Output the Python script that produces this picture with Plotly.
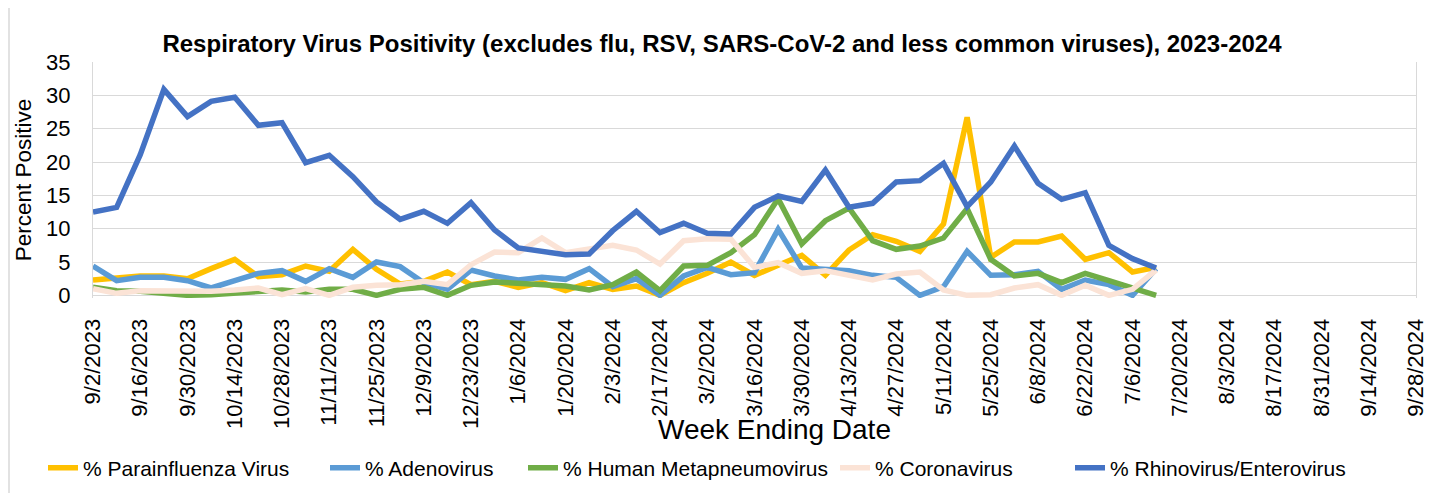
import plotly.graph_objects as go

week_ending = [
    "9/2/2023", "9/9/2023", "9/16/2023", "9/23/2023", "9/30/2023", "10/7/2023",
    "10/14/2023", "10/21/2023", "10/28/2023", "11/4/2023", "11/11/2023", "11/18/2023",
    "11/25/2023", "12/2/2023", "12/9/2023", "12/16/2023", "12/23/2023", "12/30/2023",
    "1/6/2024", "1/13/2024", "1/20/2024", "1/27/2024", "2/3/2024", "2/10/2024",
    "2/17/2024", "2/24/2024", "3/2/2024", "3/9/2024", "3/16/2024", "3/23/2024",
    "3/30/2024", "4/6/2024", "4/13/2024", "4/20/2024", "4/27/2024", "5/4/2024",
    "5/11/2024", "5/18/2024", "5/25/2024", "6/1/2024", "6/8/2024", "6/15/2024",
    "6/22/2024", "6/29/2024", "7/6/2024", "7/13/2024", "7/20/2024", "7/27/2024",
    "8/3/2024", "8/10/2024", "8/17/2024", "8/24/2024", "8/31/2024", "9/7/2024",
    "9/14/2024", "9/21/2024", "9/28/2024",
]
tick_labels = week_ending[::2]

parainfluenza = [2.3, 2.7, 2.9, 2.9, 2.5, 4.0, 5.4, 2.8, 3.1, 4.4, 3.6, 6.9, 3.9, 1.7, 2.1, 3.5,
                 1.6, 2.1, 1.2, 1.9, 0.7, 1.9, 0.9, 1.4, 0.0, 1.9, 3.3, 5.0, 3.0, 4.5, 6.0, 3.0,
                 6.8, 9.1, 8.1, 6.6, 10.7, 26.7, 5.7, 8.0, 8.0, 8.9, 5.4, 6.4, 3.5, 4.2]
adenovirus = [4.4, 2.2, 2.7, 2.7, 2.2, 1.1, 2.2, 3.3, 3.7, 2.1, 4.0, 2.7, 5.0, 4.3, 1.9, 0.9,
              3.8, 2.9, 2.3, 2.7, 2.4, 4.0, 1.3, 2.5, 0.0, 2.9, 4.2, 3.1, 3.4, 9.9, 4.1, 3.9,
              3.7, 3.0, 2.7, 0.0, 1.3, 6.6, 3.0, 3.1, 3.6, 0.9, 2.3, 1.6, 0.0, 4.0]
metapneumovirus = [1.2, 0.7, 0.6, 0.2, 0.0, 0.1, 0.4, 0.6, 0.8, 0.5, 0.9, 0.9, 0.0, 0.9, 1.2, 0.0,
                   1.5, 2.0, 1.8, 1.7, 1.4, 0.8, 1.6, 3.5, 0.7, 4.4, 4.5, 6.4, 9.1, 14.5, 7.7, 11.2,
                   13.1, 8.2, 6.9, 7.4, 8.6, 13.0, 5.4, 2.9, 3.3, 1.9, 3.3, 2.2, 1.2, 0.0]
coronavirus = [1.0, 0.3, 0.7, 0.6, 0.5, 0.6, 0.8, 1.1, 0.1, 1.0, 0.0, 1.2, 1.5, 1.6, 2.1, 1.6,
               4.6, 6.5, 6.4, 8.6, 6.4, 7.0, 7.5, 6.8, 4.7, 8.2, 8.5, 8.4, 4.2, 4.9, 3.3, 3.7,
               3.1, 2.3, 3.2, 3.5, 0.8, 0.0, 0.1, 1.1, 1.6, 0.0, 1.5, 0.0, 0.9, 3.8]
rhino_entero = [12.5, 13.2, 21.1, 30.9, 26.8, 29.1, 29.7, 25.5, 25.9, 19.9, 21.0, 17.8, 14.0, 11.4,
                12.6, 10.8, 13.9, 9.8, 7.1, 6.6, 6.1, 6.2, 9.7, 12.6, 9.4, 10.8, 9.3, 9.2, 13.2,
                14.9, 14.1, 18.8, 13.2, 13.8, 17.0, 17.2, 19.8, 13.3, 17.0, 22.4, 16.8, 14.4, 15.4,
                7.5, 5.5, 4.1]

series_names = ["% Parainfluenza Virus", "% Adenovirus", "% Human Metapneumovirus",
                "% Coronavirus", "% Rhinovirus/Enterovirus"]
series_values = [parainfluenza, adenovirus, metapneumovirus, coronavirus, rhino_entero]
series_colors = ["#FFC000", "#5B9BD5", "#70AD47", "#FBE3D6", "#4472C4"]
legend_text_x = [83, 365, 563, 875, 1110]  # page pixel where each legend label starts

# the page body has an 8px default margin, so the figure is offset by OFF
OFF = 8
W, H = 1448 - OFF, 493 - OFF
ML, MR, MT, MB = 85, 32, 54, 195
FONT = "Liberation Sans"

x_pos = list(range(len(week_ending)))

fig = go.Figure()
legend_ids = ["legend", "legend2", "legend3", "legend4", "legend5"]
for name, vals, col, lid in zip(series_names, series_values, series_colors, legend_ids):
    fig.add_trace(go.Scatter(
        x=x_pos[:len(vals)], y=vals, name=name, mode="lines",
        line=dict(color=col, width=5.5, shape="linear"),
        customdata=week_ending[:len(vals)],
        hovertemplate="%{customdata}: %{y}<extra>" + name + "</extra>",
        legend=lid, showlegend=True,
    ))

legend_layouts = {}
for lid, tx in zip(legend_ids, legend_text_x):
    legend_layouts[lid] = dict(
        orientation="h", xref="container", yref="container",
        x=(tx - OFF - 40) / W, xanchor="left", y=1 - (468 - OFF) / H, yanchor="middle",
        font=dict(family=FONT, size=21, color="#000000"),
        bgcolor="rgba(0,0,0,0)", borderwidth=0, visible=True,
    )

plot_w = W - ML - MR
plot_h = H - MT - MB

def px_to_paper_x(px):
    return (px - OFF - ML) / plot_w

def px_to_paper_y(py):
    return (H - MB - (py - OFF)) / plot_h

fig.update_layout(
    width=W, height=H,
    showlegend=True,
    margin=dict(l=ML, r=MR, t=MT, b=MB, pad=0, autoexpand=False),
    paper_bgcolor="white", plot_bgcolor="white",
    font=dict(family=FONT, color="#000000"),
    title=dict(
        text="<b>Respiratory Virus Positivity (excludes flu, RSV, SARS-CoV-2 and less common viruses), 2023-2024</b>",
        font=dict(family=FONT, size=24, color="#000000"),
        xref="container", yref="container", x=(722 - OFF) / W, xanchor="center",
        y=1 - (44 - OFF) / H, yanchor="middle",
    ),
    xaxis=dict(
        range=[0, len(week_ending) - 1], tickmode="array",
        tickvals=x_pos[::2], ticktext=tick_labels, tickangle=-90,
        tickfont=dict(family=FONT, size=22, color="#000000"),
        ticks="outside", ticklen=11, tickcolor="rgba(0,0,0,0)",
        showgrid=False, zeroline=False, showline=False, automargin=False,
    ),
    yaxis=dict(
        range=[-0.4, 35], tickmode="linear", tick0=0, dtick=5,
        tickfont=dict(family=FONT, size=22, color="#000000"),
        ticks="outside", ticklen=17, tickcolor="rgba(0,0,0,0)",
        showgrid=True, gridcolor="#D9D9D9", gridwidth=1.3,
        zeroline=True, zerolinecolor="#D9D9D9", zerolinewidth=1.3,
        showline=True, mirror=True, linecolor="#D9D9D9", linewidth=1.3,
        automargin=False,
        title=dict(text="Percent Positive", font=dict(family=FONT, size=22.5, color="#000000"),
                   standoff=8),
    ),
    annotations=[dict(
        text="Week Ending Date", xref="paper", yref="paper",
        x=px_to_paper_x(774), y=px_to_paper_y(430), xanchor="center", yanchor="middle",
        showarrow=False, font=dict(family=FONT, size=28, color="#000000"),
    )],
    shapes=[dict(
        type="rect", xref="paper", yref="paper",
        x0=px_to_paper_x(OFF + 1), x1=px_to_paper_x(1442),
        y0=px_to_paper_y(505), y1=px_to_paper_y(-10),
        line=dict(color="#D9D9D9", width=1.5), fillcolor="rgba(0,0,0,0)", layer="below",
    )],
    hovermode="closest",
    **legend_layouts,
)

fig.write_html("out.html")
